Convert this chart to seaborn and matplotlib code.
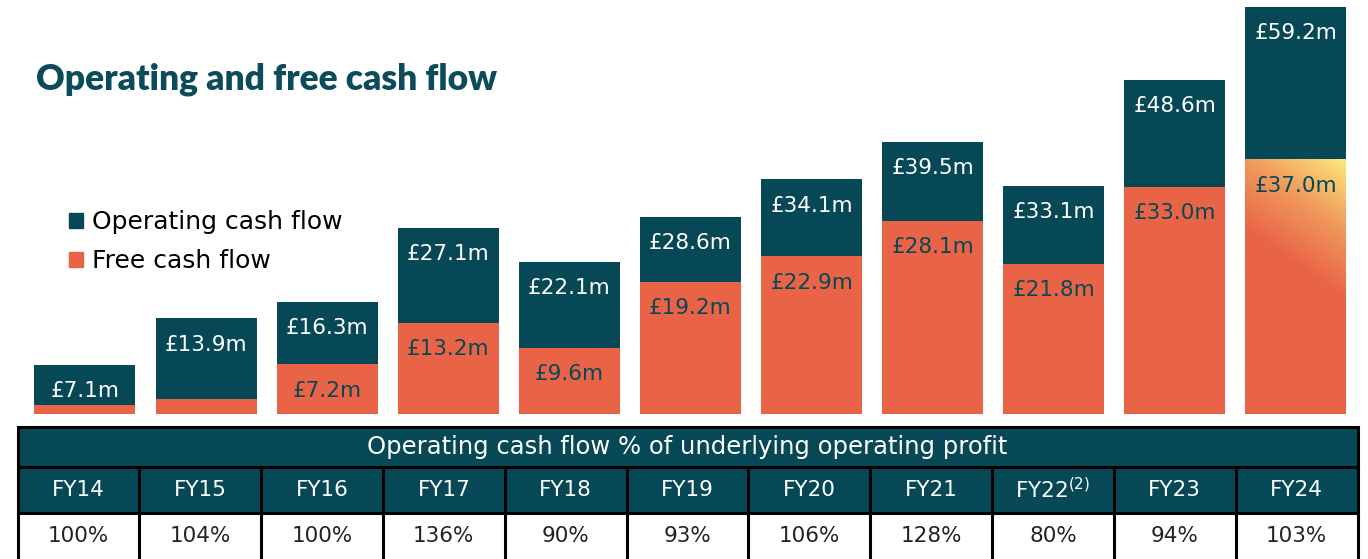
import numpy as np
import seaborn as sns
import matplotlib.pyplot as plt
from matplotlib.patches import Patch, Rectangle
from matplotlib.colors import LinearSegmentedColormap

# Data
years = ["FY14", "FY15", "FY16", "FY17", "FY18", "FY19", "FY20", "FY21", "FY22", "FY23", "FY24"]
year_labels = ["FY14", "FY15", "FY16", "FY17", "FY18", "FY19", "FY20", "FY21",
               r"FY22$^{\mathregular{(2)}}$", "FY23", "FY24"]
operating_cf = [7.1, 13.9, 16.3, 27.1, 22.1, 28.6, 34.1, 39.5, 33.1, 48.6, 59.2]
free_cf = [1.3, 2.2, 7.2, 13.2, 9.6, 19.2, 22.9, 28.1, 21.8, 33.0, 37.0]
show_free_label = [False, False, True, True, True, True, True, True, True, True, True]
ocf_pct = ["100%", "104%", "100%", "136%", "90%", "93%", "106%", "128%", "80%", "94%", "103%"]

TEAL = "#074856"
ORANGE = "#E96347"
TITLE_COL = "#0C4C5A"

sns.set_theme(style="white")
plt.rcParams['font.family'] = ['DejaVu Sans']

W, H = 1368, 559
fig = plt.figure(figsize=(W / 100, H / 100), dpi=100)
fig.patch.set_facecolor("white")

# bar area: baseline at y=414px, table starts at 427px
ax = fig.add_axes([17.5 / W, (H - 414) / H, 1340 / W, 414 / H])
sns.barplot(x=years, y=operating_cf, color=TEAL, saturation=1, width=0.834,
            linewidth=0, edgecolor="none", ax=ax)
sns.barplot(x=years, y=free_cf, color=ORANGE, saturation=1, width=0.834,
            linewidth=0, edgecolor="none", ax=ax)
ax.set_xlim(-0.557, 10.508)
ax.set_ylim(0, 414 / 6.88)
ax.axis("off")

# gradient on the last free cash flow bar
last_bar = ax.patches[-1]
bx, bw, bh = last_bar.get_x(), last_bar.get_width(), last_bar.get_height()
u = np.linspace(0, 1, 200)
v = np.linspace(0, 1, 400)
U, V = np.meshgrid(u, v)
t = np.clip(1 - ((1 - U) * 0.5 + (1 - V) * 1.8), 0, 1)
grad_cmap = LinearSegmentedColormap.from_list("g", [ORANGE, "#F09A5C", "#FCE97C"])
im = ax.imshow(t, cmap=grad_cmap, origin="lower", extent=[bx, bx + bw, 0, bh],
               aspect="auto", zorder=3, vmin=0, vmax=1)
im.set_clip_path(last_bar)

# value labels
off = 3.8
for i, v_ in enumerate(operating_cf):
    ax.text(i, v_ - off, f"£{v_:.1f}m", ha="center", va="center", color="white",
            fontsize=15.5, zorder=5)
for i, v_ in enumerate(free_cf):
    if show_free_label[i]:
        ax.text(i, v_ - off, f"£{v_:.1f}m", ha="center", va="center", color=TEAL,
                fontsize=15.5, zorder=5)

# title and legend
fig.text(36 / W, 1 - 79 / H, "Operating and free cash flow", ha="left", va="center",
         fontsize=25.5, fontweight="heavy", color=TITLE_COL, family=["Lato", "DejaVu Sans"])
handles = [Patch(color=TEAL, label="Operating cash flow"),
           Patch(color=ORANGE, label="Free cash flow")]
fig.legend(handles=handles, loc="upper left", bbox_to_anchor=(69 / W, 1 - 210 / H),
           frameon=False, fontsize=18, handlelength=0.55, handleheight=0.55,
           handletextpad=0.35, labelspacing=0.62, borderaxespad=0, borderpad=0,
           labelcolor="black")

# table below the bars
tab = fig.add_axes([17.5 / W, 0, 1340 / W, (H - 427) / H])
n = len(years)
tab.set_xlim(0, n)
tab.set_ylim(H - 427, 0)
tab.axis("off")
tab.add_patch(Rectangle((0, 0), n, 86, facecolor=TEAL, edgecolor="none"))
tab.text(n / 2, 20, "Operating cash flow % of underlying operating profit", ha="center",
         va="center", color="white", fontsize=17.5)
for i in range(n):
    tab.text(i + 0.5, 63, year_labels[i], ha="center", va="center", color="white", fontsize=15.5)
    tab.text(i + 0.5, 109, ocf_pct[i], ha="center", va="center", color="#222222", fontsize=15.5)

lw = 2.2
for y in [0, 40, 86]:
    tab.plot([0, n], [y, y], color="black", lw=lw, clip_on=False, solid_capstyle="projecting")
for x in [0, n]:
    tab.plot([x, x], [0, H - 427 + 5], color="black", lw=lw, clip_on=False)
for x in range(1, n):
    tab.plot([x, x], [40, H - 427 + 5], color="black", lw=lw, clip_on=False)

fig.savefig("out.png", dpi=100, facecolor="white")
